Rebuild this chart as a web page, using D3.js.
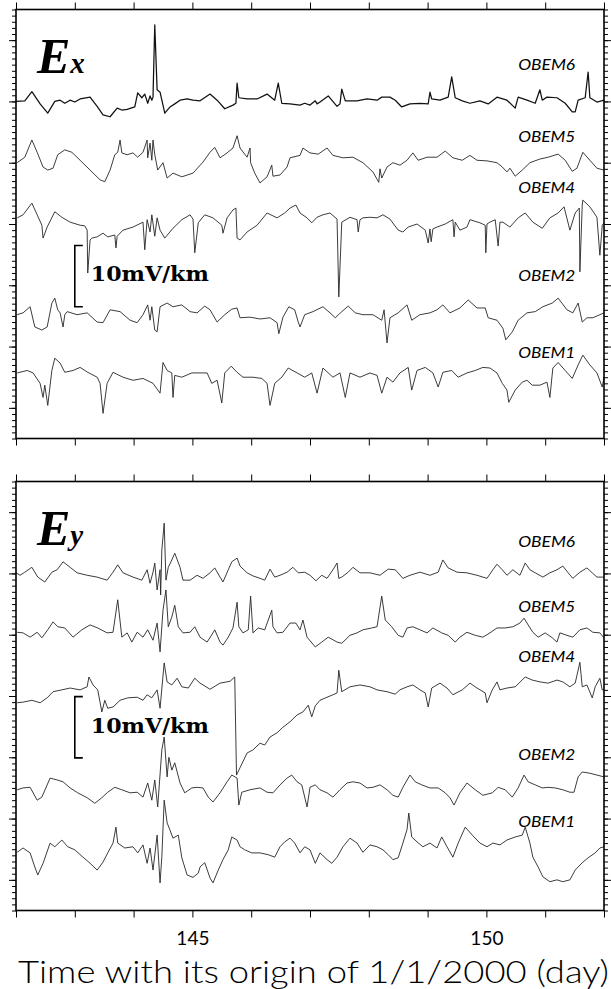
<!DOCTYPE html>
<html><head><meta charset="utf-8">
<script src="https://cdn.jsdelivr.net/npm/d3@7"></script>
<style>body{margin:0;background:#fff}svg{display:block}</style>
</head><body>
<svg id="chart" width="611" height="989"></svg>
<script>
// ---------------- DATA ----------------
const stations = ["OBEM6", "OBEM5", "OBEM4", "OBEM2", "OBEM1"];
const traceOffsets = [20, 10, 0, -15, -25];          // mV/km baseline of each trace
const dayDomain = [142, 152];
const dayTicks = [142, 143, 144, 145, 146, 147, 148, 149, 150, 151, 152];
const dayLabels = [145, 150];
const fieldDomain = [-35, 35];
const scaleBarValue = 10;                               // mV/km
const scaleBarText = "10mV/km";
const xTitle = "Time with its origin of  1/1/2000 (day)";

// Ex traces: [day, mV/km relative to trace baseline]
const exOBEM6 = [[142.00,0.0],[142.15,0.1],[142.27,1.6],[142.41,-0.4],[142.54,-1.9],[142.66,0.0],[142.75,0.2],[142.83,-0.3],[142.92,0.2],[143.00,-0.1],[143.09,0.4],[143.26,0.7],[143.38,-0.8],[143.48,-2.2],[143.60,-2.5],[143.72,-1.1],[143.80,-1.4],[143.89,-1.3],[144.02,-0.9],[144.07,1.4],[144.14,0.6],[144.19,1.2],[144.24,-0.3],[144.28,0.9],[144.31,0.2],[144.33,0.7],[144.36,12.5],[144.40,1.9],[144.45,1.5],[144.53,-1.9],[144.62,-0.9],[144.70,-0.4],[144.79,0.2],[144.91,0.4],[145.01,0.2],[145.13,0.1],[145.30,1.2],[145.42,0.2],[145.55,-1.2],[145.69,-0.6],[145.74,-0.3],[145.76,3.0],[145.79,0.6],[145.93,0.4],[146.10,0.4],[146.27,1.2],[146.40,0.2],[146.46,3.0],[146.52,-0.3],[146.66,-0.4],[146.83,-0.6],[146.91,-0.3],[147.00,-0.6],[147.09,0.1],[147.12,-0.4],[147.17,-0.1],[147.31,0.9],[147.46,-0.8],[147.51,-0.4],[147.54,2.0],[147.60,0.1],[147.80,0.1],[147.97,0.4],[148.14,0.2],[148.22,0.7],[148.36,0.7],[148.45,0.2],[148.56,-0.9],[148.70,-0.4],[148.87,-0.3],[149.01,-0.4],[149.04,1.5],[149.07,0.4],[149.21,0.2],[149.35,0.7],[149.41,4.0],[149.47,0.6],[149.59,0.1],[149.72,-0.3],[149.89,0.1],[150.03,-0.4],[150.18,0.7],[150.35,0.2],[150.49,-1.1],[150.54,0.7],[150.69,0.2],[150.83,-0.3],[150.91,1.9],[150.95,0.2],[151.03,0.7],[151.20,0.6],[151.34,-0.3],[151.46,-1.7],[151.51,-1.7],[151.56,0.2],[151.68,0.6],[151.73,4.8],[151.76,0.6],[151.88,-0.1],[152.00,0.2]];
const exOBEM5 = [[142.02,0.0],[142.15,0.9],[142.27,3.7],[142.36,1.7],[142.46,-0.7],[142.54,-1.2],[142.63,-0.9],[142.71,1.3],[142.83,2.1],[142.95,1.7],[143.09,0.4],[143.26,-1.2],[143.43,-2.8],[143.51,-3.1],[143.60,-1.2],[143.68,1.3],[143.73,1.7],[143.77,3.7],[143.80,1.6],[143.89,1.3],[143.99,1.6],[144.07,0.9],[144.16,1.7],[144.23,3.7],[144.24,0.8],[144.28,3.2],[144.31,0.4],[144.33,3.7],[144.36,1.3],[144.41,-1.2],[144.50,0.0],[144.57,-2.5],[144.67,-1.7],[144.82,-2.3],[145.01,-1.7],[145.18,0.1],[145.30,1.7],[145.38,2.5],[145.47,0.8],[145.59,1.6],[145.69,2.4],[145.76,4.4],[145.81,2.4],[145.93,0.9],[145.98,2.4],[145.99,0.0],[146.06,-1.7],[146.15,-3.3],[146.27,-2.3],[146.35,-0.4],[146.37,-2.2],[146.49,-2.0],[146.61,-0.7],[146.66,0.8],[146.83,1.2],[146.88,2.4],[147.00,1.6],[147.14,1.4],[147.29,2.4],[147.39,1.2],[147.56,0.8],[147.73,0.9],[147.90,0.0],[148.07,-1.5],[148.17,-3.2],[148.19,-1.0],[148.22,-2.5],[148.31,-0.7],[148.41,0.0],[148.53,-0.4],[148.65,0.4],[148.75,1.6],[148.84,0.4],[148.99,0.9],[149.16,0.9],[149.30,1.9],[149.43,0.8],[149.59,0.4],[149.72,1.2],[149.84,0.4],[150.01,0.3],[150.18,0.0],[150.27,-0.7],[150.35,-1.5],[150.40,-0.9],[150.49,-2.2],[150.61,-1.2],[150.74,0.0],[150.91,0.6],[151.05,0.9],[151.22,1.4],[151.34,0.4],[151.46,-1.4],[151.54,-0.9],[151.64,1.7],[151.76,0.4],[151.88,-0.9],[152.00,-1.2]];
const exOBEM4 = [[142.02,1.0],[142.12,1.5],[142.27,3.4],[142.36,1.5],[142.44,-0.2],[142.46,-2.3],[142.53,-0.5],[142.66,2.0],[142.78,1.1],[142.92,0.3],[143.09,-0.2],[143.17,-0.3],[143.21,-1.0],[143.22,-8.0],[143.26,-2.6],[143.29,-2.3],[143.38,-2.1],[143.48,-1.5],[143.56,-2.1],[143.68,-1.8],[143.70,-3.9],[143.72,-2.0],[143.82,-1.0],[143.99,-0.5],[144.16,0.3],[144.19,-4.2],[144.23,0.7],[144.28,-1.3],[144.31,1.5],[144.36,-2.0],[144.40,1.0],[144.45,-1.0],[144.53,-2.3],[144.67,-0.7],[144.82,0.7],[144.96,1.5],[145.01,0.8],[145.04,-4.7],[145.10,0.2],[145.21,1.5],[145.35,1.0],[145.50,-0.2],[145.52,-1.5],[145.59,1.0],[145.69,2.3],[145.74,2.6],[145.76,-2.3],[145.81,-2.6],[145.93,-1.3],[146.10,-0.2],[146.27,1.8],[146.44,1.0],[146.57,1.8],[146.66,2.6],[146.76,3.1],[146.83,1.8],[146.95,1.0],[147.03,0.2],[147.12,1.1],[147.22,1.5],[147.34,1.8],[147.46,0.8],[147.49,-11.9],[147.54,0.3],[147.68,1.1],[147.80,0.7],[147.82,-1.3],[147.85,0.7],[147.90,1.0],[148.02,1.1],[148.14,1.0],[148.24,1.5],[148.36,0.8],[148.50,-1.0],[148.58,-1.3],[148.67,-0.5],[148.82,0.0],[148.96,-1.0],[149.01,-3.1],[149.04,-0.8],[149.06,-2.9],[149.09,-0.8],[149.16,-0.5],[149.30,0.0],[149.43,0.7],[149.45,-2.1],[149.47,0.3],[149.55,-1.0],[149.67,-0.5],[149.72,0.7],[149.89,0.2],[149.98,-0.2],[149.99,-4.7],[150.01,0.0],[150.06,0.3],[150.15,0.7],[150.20,-3.6],[150.23,0.3],[150.28,0.3],[150.40,-0.5],[150.54,1.0],[150.66,1.8],[150.79,0.3],[150.95,-0.7],[151.08,1.0],[151.22,1.8],[151.32,2.8],[151.42,-1.0],[151.51,1.8],[151.58,2.6],[151.59,-7.8],[151.63,3.1],[151.64,3.9],[151.76,2.8],[151.88,1.1],[151.93,-5.1],[151.97,-0.2],[152.00,0.2]];
const exOBEM2 = [[142.02,0.2],[142.12,0.5],[142.24,1.5],[142.32,-1.8],[142.44,-2.3],[142.53,-1.8],[142.61,2.1],[142.66,2.9],[142.71,1.0],[142.75,0.5],[142.80,-1.8],[142.83,0.2],[142.87,0.7],[143.04,0.2],[143.21,0.5],[143.38,-1.0],[143.48,-1.1],[143.60,1.0],[143.77,0.7],[143.94,-0.7],[144.06,-1.1],[144.16,0.2],[144.24,1.8],[144.28,-0.7],[144.31,1.5],[144.36,-2.3],[144.40,-2.6],[144.45,1.5],[144.57,2.1],[144.67,1.5],[144.82,1.8],[144.96,0.7],[145.08,0.5],[145.21,1.6],[145.30,1.0],[145.42,-1.0],[145.55,0.2],[145.67,1.1],[145.76,1.3],[145.81,-0.3],[145.98,-0.2],[146.15,-0.5],[146.32,-0.3],[146.44,-1.1],[146.47,-2.9],[146.54,-0.2],[146.64,1.5],[146.74,1.0],[146.80,-1.0],[146.83,-1.8],[146.91,0.2],[147.05,0.7],[147.22,1.5],[147.34,0.5],[147.43,-0.3],[147.54,0.7],[147.65,1.6],[147.77,0.5],[147.90,0.2],[148.07,0.2],[148.22,-0.7],[148.26,1.0],[148.31,-4.4],[148.36,-0.3],[148.50,0.5],[148.65,1.8],[148.73,-0.7],[148.87,0.2],[149.04,0.5],[149.16,1.0],[149.26,1.8],[149.38,0.5],[149.55,1.3],[149.69,2.6],[149.84,1.3],[149.98,1.3],[150.03,-0.3],[150.18,-0.7],[150.28,-2.0],[150.33,-3.9],[150.44,-2.6],[150.54,-0.7],[150.69,0.5],[150.83,0.7],[150.96,1.5],[151.12,2.1],[151.22,2.9],[151.37,1.0],[151.47,0.5],[151.56,2.1],[151.63,-1.0],[151.71,-0.3],[151.81,-0.3],[152.00,0.5]];
const exOBEM1 = [[142.02,0.7],[142.19,1.1],[142.29,0.7],[142.41,-1.0],[142.46,-3.3],[142.49,-1.3],[142.54,-4.6],[142.61,1.1],[142.66,3.1],[142.75,2.3],[142.83,0.8],[142.97,1.1],[143.09,1.6],[143.22,0.8],[143.38,0.0],[143.43,-1.0],[143.48,-5.9],[143.55,-1.0],[143.65,0.8],[143.82,0.0],[143.99,-0.5],[144.16,-0.2],[144.33,-1.0],[144.45,-2.6],[144.50,2.4],[144.57,1.1],[144.65,0.7],[144.67,-3.3],[144.70,0.3],[144.82,0.0],[144.99,0.7],[145.13,0.7],[145.25,0.7],[145.33,-1.0],[145.42,-0.5],[145.50,-4.2],[145.55,0.7],[145.66,1.8],[145.76,0.8],[145.86,0.0],[146.03,0.0],[146.18,-0.2],[146.27,-1.0],[146.32,-4.6],[146.40,-1.0],[146.52,0.0],[146.63,1.5],[146.78,0.7],[146.91,0.0],[147.03,0.7],[147.12,-2.6],[147.22,1.5],[147.39,0.0],[147.51,0.7],[147.60,-3.3],[147.68,0.7],[147.85,0.0],[148.02,0.7],[148.14,0.3],[148.22,-2.6],[148.31,0.0],[148.41,-0.8],[148.53,0.7],[148.67,1.6],[148.73,-2.1],[148.82,1.1],[148.96,1.6],[149.09,0.7],[149.18,-1.6],[149.26,0.8],[149.41,1.1],[149.52,0.0],[149.67,0.7],[149.81,1.1],[149.94,1.6],[150.06,1.5],[150.18,0.7],[150.27,-1.0],[150.35,-2.1],[150.38,-4.1],[150.49,-2.1],[150.61,-0.8],[150.69,-0.5],[150.78,-1.3],[150.91,-1.3],[151.03,-0.8],[151.08,-3.3],[151.13,1.5],[151.22,2.4],[151.34,1.1],[151.46,-0.2],[151.56,2.0],[151.64,3.6],[151.76,2.0],[151.88,0.7],[151.97,-1.6],[152.00,0.0]];

// Ey traces
const eyOBEM6 = [[142.00,0.1],[142.07,-0.3],[142.15,0.2],[142.27,1.0],[142.37,-0.6],[142.49,-1.4],[142.61,0.2],[142.70,0.6],[142.80,1.9],[142.92,1.0],[143.04,0.1],[143.21,-0.3],[143.38,-0.6],[143.55,-1.1],[143.65,0.2],[143.73,1.4],[143.82,0.1],[143.99,-0.6],[144.14,-1.1],[144.23,0.6],[144.28,-1.6],[144.33,0.2],[144.36,1.7],[144.40,-2.7],[144.45,0.6],[144.46,-3.5],[144.48,3.8],[144.52,8.2],[144.55,-1.1],[144.59,1.0],[144.65,2.2],[144.70,3.3],[144.79,1.0],[144.84,-1.1],[144.96,-1.1],[145.08,-0.3],[145.18,-0.8],[145.30,0.1],[145.38,0.9],[145.47,-0.6],[145.52,-1.4],[145.61,0.6],[145.67,1.9],[145.76,2.5],[145.81,1.2],[145.93,0.1],[146.03,-0.4],[146.15,-0.8],[146.23,-1.1],[146.32,0.7],[146.40,-0.6],[146.49,-0.3],[146.61,0.2],[146.71,1.0],[146.80,0.1],[146.91,0.2],[147.00,-0.3],[147.10,-1.2],[147.20,-0.3],[147.29,-0.8],[147.39,0.6],[147.46,1.7],[147.49,-0.8],[147.54,-0.6],[147.65,0.2],[147.73,1.0],[147.85,0.1],[148.02,0.1],[148.19,-0.3],[148.33,0.7],[148.45,0.6],[148.58,-0.8],[148.70,-0.3],[148.87,0.2],[149.04,-0.3],[149.18,0.2],[149.26,2.2],[149.35,0.9],[149.50,0.2],[149.67,0.1],[149.84,-0.3],[150.01,-0.8],[150.11,0.6],[150.18,1.5],[150.27,0.6],[150.35,-0.3],[150.45,0.6],[150.57,-0.3],[150.66,1.7],[150.74,0.6],[150.83,0.1],[150.96,-0.6],[151.08,0.1],[151.20,0.6],[151.30,1.2],[151.39,0.1],[151.47,-0.8],[151.59,0.2],[151.71,0.9],[151.80,0.1],[151.88,-0.6],[152.00,-0.6]];
const eyOBEM5 = [[142.02,0.4],[142.12,0.3],[142.24,-0.4],[142.36,0.4],[142.44,-0.5],[142.54,0.8],[142.63,2.1],[142.71,1.3],[142.83,1.1],[142.97,-0.4],[143.12,0.8],[143.26,1.6],[143.39,1.1],[143.55,0.3],[143.65,0.4],[143.73,5.7],[143.80,-0.4],[143.89,0.3],[143.97,-1.2],[144.06,0.4],[144.16,-0.4],[144.24,0.8],[144.33,-0.9],[144.40,1.9],[144.45,-2.8],[144.50,4.0],[144.55,7.3],[144.59,1.3],[144.65,2.9],[144.70,4.8],[144.76,1.3],[144.84,0.3],[144.96,0.4],[145.04,1.3],[145.13,-0.4],[145.25,-1.2],[145.35,0.3],[145.38,0.8],[145.47,-1.2],[145.52,-1.7],[145.61,-0.4],[145.69,1.1],[145.76,5.3],[145.79,1.3],[145.86,0.3],[145.95,0.8],[145.99,6.3],[146.03,0.3],[146.12,1.1],[146.23,0.8],[146.35,4.0],[146.37,1.3],[146.44,0.3],[146.54,0.4],[146.66,1.9],[146.76,1.9],[146.83,0.8],[146.88,2.4],[146.95,-0.4],[147.09,-2.0],[147.20,-1.2],[147.31,-0.4],[147.46,-1.2],[147.54,-1.4],[147.68,-0.1],[147.80,0.3],[147.90,0.8],[148.05,1.1],[148.14,1.3],[148.22,6.3],[148.28,2.4],[148.39,1.3],[148.50,-0.1],[148.58,-0.4],[148.65,1.1],[148.75,1.3],[148.87,0.8],[148.99,0.3],[149.09,1.1],[149.24,0.3],[149.35,-0.1],[149.47,-1.2],[149.55,-0.4],[149.67,0.4],[149.81,-0.1],[149.94,-0.4],[150.06,0.3],[150.18,1.1],[150.32,1.1],[150.45,1.3],[150.57,1.9],[150.64,2.7],[150.71,1.6],[150.79,0.4],[150.88,-0.4],[151.00,0.3],[151.12,-0.5],[151.20,-1.2],[151.25,0.3],[151.37,-0.1],[151.47,-0.4],[151.59,0.8],[151.71,1.1],[151.81,0.4],[151.93,0.3],[152.00,-0.5]];
const eyOBEM4 = [[142.02,-1.1],[142.12,-1.0],[142.27,-0.7],[142.41,-1.1],[142.53,-0.3],[142.63,0.7],[142.78,1.0],[142.92,1.3],[143.09,1.0],[143.21,1.5],[143.24,3.1],[143.31,1.8],[143.39,1.0],[143.46,-2.6],[143.51,-0.7],[143.56,-2.0],[143.65,-1.8],[143.77,-0.7],[143.90,-0.3],[144.06,-0.2],[144.16,-0.7],[144.23,0.2],[144.31,-0.3],[144.40,1.0],[144.45,-2.0],[144.52,5.4],[144.57,2.3],[144.65,1.8],[144.74,2.9],[144.82,1.5],[144.93,1.3],[145.04,2.9],[145.13,2.1],[145.30,1.1],[145.47,2.1],[145.64,2.4],[145.72,3.1],[145.75,-12.9],[145.81,-11.7],[145.93,-9.3],[146.03,-8.8],[146.15,-7.7],[146.23,-8.0],[146.32,-6.7],[146.44,-6.0],[146.54,-5.1],[146.66,-4.2],[146.78,-3.1],[146.88,-2.6],[146.97,-1.5],[147.03,-3.4],[147.09,-1.6],[147.17,-0.7],[147.29,-0.2],[147.39,0.2],[147.46,0.5],[147.49,4.2],[147.54,0.7],[147.68,1.5],[147.85,1.8],[148.02,1.5],[148.14,1.0],[148.31,0.7],[148.45,0.3],[148.53,1.0],[148.65,1.5],[148.75,1.8],[148.87,1.0],[148.96,0.5],[149.01,-1.8],[149.07,1.3],[149.21,2.1],[149.33,1.3],[149.43,0.2],[149.59,1.0],[149.72,2.1],[149.84,1.3],[149.98,0.5],[150.01,-1.1],[150.10,1.0],[150.18,2.3],[150.23,1.0],[150.35,1.3],[150.49,1.5],[150.66,3.1],[150.78,2.6],[150.91,2.3],[151.05,2.1],[151.20,2.6],[151.30,2.3],[151.42,1.5],[151.51,2.1],[151.59,5.5],[151.63,1.5],[151.71,1.8],[151.80,-0.3],[151.85,1.5],[151.93,2.9],[151.97,1.0],[152.00,1.0]];
const eyOBEM2 = [[142.02,-0.3],[142.12,0.0],[142.24,0.1],[142.36,-2.0],[142.44,-1.5],[142.58,1.6],[142.70,1.3],[142.80,1.0],[142.92,0.0],[143.05,-0.8],[143.21,-1.6],[143.34,-2.5],[143.46,-1.6],[143.56,-0.7],[143.68,0.1],[143.80,-0.3],[143.94,-0.8],[144.06,-0.7],[144.16,-1.5],[144.24,0.8],[144.31,-2.0],[144.36,1.3],[144.41,-3.1],[144.48,6.2],[144.52,8.3],[144.57,1.8],[144.60,5.0],[144.65,2.9],[144.70,4.1],[144.79,0.8],[144.87,-0.8],[144.99,0.0],[145.08,0.1],[145.18,0.0],[145.27,-1.5],[145.35,-2.3],[145.47,-0.8],[145.59,1.0],[145.67,2.1],[145.76,1.6],[145.79,-2.8],[145.84,-0.7],[145.98,-0.3],[146.15,0.0],[146.27,-0.7],[146.37,-0.8],[146.49,0.5],[146.61,1.6],[146.69,2.1],[146.78,1.0],[146.86,0.5],[146.95,-3.1],[147.00,0.1],[147.09,0.5],[147.17,-0.3],[147.29,-0.8],[147.39,-1.5],[147.51,-0.3],[147.63,0.8],[147.73,1.0],[147.85,0.8],[147.97,0.0],[148.07,0.1],[148.19,0.5],[148.31,-0.3],[148.41,-1.2],[148.50,-1.5],[148.58,0.1],[148.70,2.1],[148.79,1.0],[148.90,0.5],[149.04,0.0],[149.18,0.0],[149.30,-0.8],[149.38,-1.6],[149.45,-2.8],[149.55,-0.8],[149.67,0.8],[149.81,-0.3],[149.94,-1.2],[150.10,-0.8],[150.20,0.1],[150.32,-0.3],[150.44,-1.5],[150.54,0.0],[150.64,2.1],[150.71,1.0],[150.83,0.5],[150.95,0.0],[151.05,0.1],[151.17,0.0],[151.30,-0.3],[151.42,-0.7],[151.49,-0.7],[151.56,1.8],[151.63,2.6],[151.76,2.4],[151.88,2.1],[152.00,1.8]];
const eyOBEM1 = [[142.02,-0.5],[142.12,0.2],[142.24,-0.6],[142.32,-2.9],[142.37,-4.2],[142.46,-2.3],[142.58,1.0],[142.66,0.4],[142.78,1.5],[142.88,0.4],[143.00,-0.1],[143.14,-1.3],[143.26,-2.3],[143.38,-3.4],[143.48,-2.1],[143.56,-0.6],[143.65,1.0],[143.70,3.6],[143.73,1.0],[143.85,0.2],[143.99,0.4],[144.07,-0.6],[144.16,0.7],[144.23,-2.3],[144.28,0.2],[144.33,-3.4],[144.40,2.3],[144.45,-5.5],[144.48,-1.3],[144.52,8.0],[144.57,4.3],[144.62,3.1],[144.67,1.8],[144.76,2.3],[144.82,-1.4],[144.91,-4.2],[145.01,-4.6],[145.10,-3.9],[145.13,-2.9],[145.21,-2.2],[145.30,-4.7],[145.35,-5.5],[145.44,-3.4],[145.52,-1.7],[145.61,-0.1],[145.67,2.0],[145.76,1.5],[145.81,0.4],[145.89,-0.1],[146.01,-0.6],[146.15,-0.6],[146.29,-0.9],[146.40,-1.3],[146.49,0.4],[146.57,1.2],[146.66,1.8],[146.74,1.0],[146.83,-0.6],[146.91,0.4],[147.00,-0.1],[147.09,-2.3],[147.17,-0.6],[147.29,-1.7],[147.37,-2.3],[147.46,-1.3],[147.56,0.4],[147.68,1.8],[147.80,1.0],[147.90,-0.5],[148.02,0.7],[148.14,0.4],[148.24,-0.1],[148.33,-0.9],[148.41,-1.7],[148.50,-1.4],[148.58,1.0],[148.65,3.2],[148.68,5.9],[148.73,2.0],[148.82,1.2],[148.92,0.4],[149.04,1.0],[149.16,0.2],[149.24,2.0],[149.33,0.4],[149.43,-1.3],[149.52,1.0],[149.64,3.6],[149.76,2.3],[149.89,1.0],[150.01,0.4],[150.11,1.0],[150.23,0.7],[150.35,1.5],[150.49,2.0],[150.61,2.3],[150.66,3.6],[150.74,1.0],[150.79,-1.3],[150.88,-2.9],[150.96,-4.5],[151.08,-5.3],[151.20,-5.0],[151.30,-5.3],[151.42,-5.0],[151.51,-3.4],[151.63,-2.2],[151.73,-1.4],[151.85,-0.6],[151.93,0.2],[152.00,0.4]];

// ---------------- LAYOUT ----------------
const layout = {
  left: 16, right: 604, panelH: 429,
  panels: [
    { top: 9.5, main: "E", sub: "x", traces: [exOBEM6, exOBEM5, exOBEM4, exOBEM2, exOBEM1],
      labelRise: [5.1, 3.4, 5.1, 5.7, 3.1], barFrom: -13.5, barTextY: 281 },
    { top: 481.5, main: "E", sub: "y", traces: [eyOBEM6, eyOBEM5, eyOBEM4, eyOBEM2, eyOBEM1],
      labelRise: [4.3, 3.7, 5.5, 4.6, 3.6], barFrom: -10.1, barTextY: 733 }
  ],
  labelDay: 150.54
};

const svg = d3.select("#chart");
svg.append("rect").attr("width", 611).attr("height", 989).attr("fill", "#fff");
const x = d3.scaleLinear().domain(dayDomain).range([layout.left, layout.right]);
const minorVals = d3.range(fieldDomain[0], fieldDomain[1] + 1, 1);
const majorVals = minorVals.filter(v => v % 10 === 0);

layout.panels.forEach((p, pi) => {
  const y = d3.scaleLinear().domain(fieldDomain).range([p.top + layout.panelH, p.top]);
  const g = svg.append("g");

  // traces
  p.traces.forEach((tr, i) => {
    const off = traceOffsets[i];
    const line = d3.line().x(d => x(d[0])).y(d => y(d[1] + off));
    g.append("path").datum(tr)
      .attr("d", line)
      .attr("fill", "none")
      .attr("stroke", pi === 0 && i === 0 ? "#111" : "#262626")
      .attr("stroke-width", pi === 0 && i === 0 ? 1.25 : 0.9)
      .attr("stroke-linejoin", "round");
    g.append("text")
      .attr("x", x(layout.labelDay))
      .attr("y", y(off + p.labelRise[i]))
      .attr("font-family", "Lato, 'DejaVu Sans', sans-serif")
      .attr("font-style", "italic")
      .attr("font-weight", 400)
      .attr("font-size", 16)
      .attr("textLength", 57)
      .attr("lengthAdjust", "spacingAndGlyphs")
      .attr("fill", "#000")
      .text(stations[i]);
  });

  // axes
  const axStyle = sel => { sel.select(".domain").remove(); sel.selectAll("line").attr("stroke", "#000").attr("stroke-width", 1); };
  g.append("g").attr("transform", `translate(0,${p.top})`)
    .call(d3.axisTop(x).tickValues(dayTicks).tickSize(7).tickFormat("")).call(axStyle);
  const bx = g.append("g").attr("transform", `translate(0,${p.top + layout.panelH})`)
    .call(d3.axisBottom(x).tickValues(dayTicks).tickSize(7)
      .tickFormat(d => (pi === 1 && dayLabels.includes(d)) ? d : ""))
    .call(axStyle);
  bx.selectAll("text").attr("font-family", "Lato, 'DejaVu Sans', sans-serif").attr("font-weight", 400)
    .attr("font-size", 19).attr("fill", "#000").attr("y", 21);
  [[d3.axisLeft, layout.left], [d3.axisRight, layout.right]].forEach(([ax, pos]) => {
    g.append("g").attr("transform", `translate(${pos},0)`)
      .call(ax(y).tickValues(minorVals).tickSize(4).tickFormat("")).call(axStyle);
    g.append("g").attr("transform", `translate(${pos},0)`)
      .call(ax(y).tickValues(majorVals).tickSize(7).tickFormat("")).call(axStyle);
  });

  // frame
  g.append("rect").attr("x", layout.left).attr("y", p.top)
    .attr("width", layout.right - layout.left).attr("height", layout.panelH)
    .attr("fill", "none").attr("stroke", "#000").attr("stroke-width", 1.6);

  // panel label
  const t = g.append("text").attr("x", 37).attr("y", p.top + 63.5)
    .attr("font-family", "'Liberation Serif', 'Times New Roman', serif")
    .attr("font-style", "italic").attr("font-weight", "bold").attr("fill", "#000");
  t.append("tspan").attr("font-size", 50).text(p.main);
  t.append("tspan").attr("font-size", 29).text(p.sub);

  // scale bar
  const bx0 = x(143.0), y0 = y(p.barFrom), y1 = y(p.barFrom + scaleBarValue);
  g.append("path")
    .attr("d", `M${bx0 + 8},${y1}H${bx0}V${y0}H${bx0 + 8}`)
    .attr("fill", "none").attr("stroke", "#000").attr("stroke-width", 1.6);
  g.append("text").attr("x", bx0 + 16).attr("y", p.barTextY)
    .attr("font-family", "'DejaVu Serif', serif").attr("font-weight", "bold")
    .attr("font-size", 20).attr("textLength", 118).attr("lengthAdjust", "spacingAndGlyphs")
    .attr("fill", "#000").text(scaleBarText);
});

svg.append("text").attr("x", 18).attr("y", 983)
  .attr("font-family", "Lato, 'DejaVu Sans', sans-serif").attr("font-weight", 300)
  .attr("font-size", 32).attr("textLength", 591).attr("lengthAdjust", "spacingAndGlyphs")
  .attr("fill", "#000").text(xTitle);
</script>
</body></html>
